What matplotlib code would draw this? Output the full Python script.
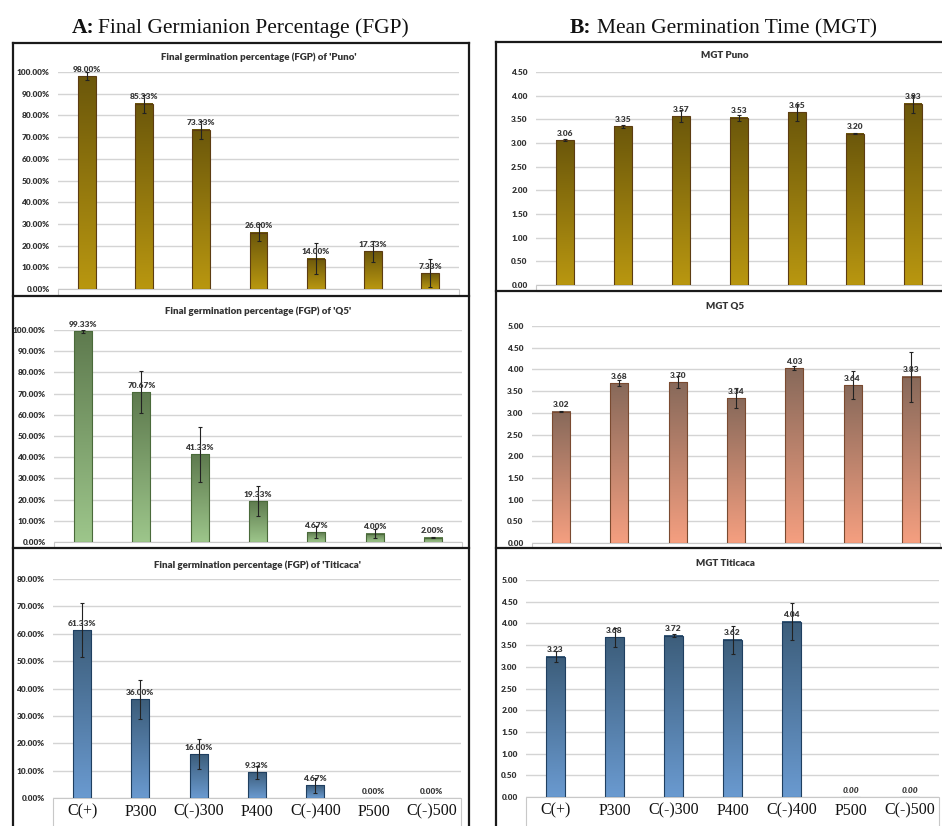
import numpy as np
import matplotlib.pyplot as plt
from matplotlib.colors import LinearSegmentedColormap
from matplotlib.patches import Rectangle
from matplotlib.lines import Line2D

W, H = 942, 826

categories = ['C(+)', 'P300', 'C(-)300', 'P400', 'C(-)400', 'P500', 'C(-)500']

fgp_puno = [98.00, 85.33, 73.33, 26.00, 14.00, 17.33, 7.33]
fgp_puno_err = [1.8, 4.0, 4.0, 4.0, 7.3, 5.0, 6.3]
fgp_q5 = [99.33, 70.67, 41.33, 19.33, 4.67, 4.00, 2.00]
fgp_q5_err = [0.7, 10.0, 13.0, 7.0, 2.7, 2.0, 0.3]
fgp_titicaca = [61.33, 36.00, 16.00, 9.33, 4.67, 0.00, 0.00]
fgp_titicaca_err = [10.0, 7.0, 5.5, 2.5, 2.7, 0, 0]

mgt_puno = [3.06, 3.35, 3.57, 3.53, 3.65, 3.20, 3.83]
mgt_puno_err = [0.02, 0.03, 0.12, 0.07, 0.18, 0.02, 0.19]
mgt_q5 = [3.02, 3.68, 3.70, 3.34, 4.03, 3.64, 3.83]
mgt_q5_err = [0.01, 0.07, 0.14, 0.24, 0.05, 0.32, 0.58]
mgt_titicaca = [3.23, 3.68, 3.72, 3.62, 4.04, 0.00, 0.00]
mgt_titicaca_err = [0.13, 0.22, 0.04, 0.33, 0.42, 0, 0]

# bar colours: (top, bottom, edge)
puno_col = ('#6b570b', '#b99710', '#5c3c12')
q5g_col = ('#5e7a4e', '#9dc68b', '#4a6a3a')
q5b_col = ('#87695a', '#f59f80', '#7a4a30')
titi_col = ('#3c5d7a', '#6a9ad0', '#1f3f60')

sans = ['Lato', 'DejaVu Sans']
serif = ['Liberation Serif', 'DejaVu Serif']

fig = plt.figure(figsize=(W / 100, H / 100), dpi=100)
fig.patch.set_facecolor('white')


def fx(x):
    return x / W


def fy(y):
    return 1 - y / H


def panel(box, frame_bottom, title, title_y, vals, errs, cols, ymax, step, pct,
          show_x, zero_italic=False):
    l, t, r, b = box
    # white x-axis box under the plot area, down to the panel frame
    fig.add_artist(Rectangle((fx(l), fy(frame_bottom)), (r - l) / W, (frame_bottom - b) / H,
                             transform=fig.transFigure, facecolor='white',
                             edgecolor='#c8c8c8', lw=0.8, zorder=0.5))
    ax = fig.add_axes([fx(l), fy(b), (r - l) / W, (b - t) / H])
    ax.set_zorder(1)
    x = np.arange(len(vals))
    w = 0.31
    cmap = LinearSegmentedColormap.from_list('g', [cols[1], cols[0]])
    grad = np.linspace(1, 0, 256).reshape(-1, 1)
    for i, v in enumerate(vals):
        if v > 0:
            ax.imshow(grad, extent=[i - w / 2, i + w / 2, 0, v], aspect='auto',
                      cmap=cmap, origin='upper', zorder=2, interpolation='bilinear')
    ax.bar(x, vals, width=w, fill=False, edgecolor=cols[2], lw=0.8, zorder=3)
    nz = [i for i, v in enumerate(vals) if v > 0]
    ax.errorbar([x[i] for i in nz], [vals[i] for i in nz], yerr=[errs[i] for i in nz],
                fmt='none', ecolor='#222222', elinewidth=0.8, capsize=1.6,
                capthick=0.8, zorder=4)
    for i, v in enumerate(vals):
        lab = f'{v:.2f}%' if pct else f'{v:.2f}'
        style = 'italic' if (zero_italic and v == 0) else 'normal'
        ax.annotate(lab, (i, v), xytext=(0, 2.5), textcoords='offset points',
                    ha='center', va='bottom', fontsize=6, fontweight='heavy',
                    style=style, color='#3a3a3a', family=sans, zorder=5)
    ax.set_xlim(-0.5, len(vals) - 0.5)
    ax.set_ylim(0, ymax)
    ticks = np.arange(0, ymax + step / 2, step)
    ax.set_yticks(ticks)
    if pct:
        ax.set_yticklabels([f'{v:.2f}%' for v in ticks])
    else:
        ax.set_yticklabels([f'{v:.2f}' for v in ticks])
    for lab in ax.get_yticklabels():
        lab.set_fontsize(6)
        lab.set_fontweight('heavy')
        lab.set_color('#333333')
        lab.set_family(sans)
    ax.tick_params(axis='y', length=0, pad=6)
    ax.set_axisbelow(True)
    ax.yaxis.grid(True, color='#d4d4d4', lw=1.0)
    for s in ax.spines.values():
        s.set_visible(False)
    ax.set_xticks(x)
    if show_x:
        ax.set_xticklabels(categories, fontsize=11.5, family=serif, color='#111111')
        ax.tick_params(axis='x', length=0, pad=4)
    else:
        ax.set_xticklabels([])
        ax.tick_params(axis='x', length=0)
    ax.patch.set_alpha(0)
    fig.text(fx((l + r) / 2 if r < 900 else 725), fy(title_y), title, ha='center',
             va='center', fontsize=7, fontweight='heavy', color='#333333', family=sans)
    return ax


panel((58, 72, 459, 289), 296, "Final germination percentage (FGP) of 'Puno'", 57,
      fgp_puno, fgp_puno_err, puno_col, 100, 10, True, False)
panel((54, 330, 462, 542), 548, "Final germination percentage (FGP) of 'Q5'", 311,
      fgp_q5, fgp_q5_err, q5g_col, 100, 10, True, False)
panel((53, 579, 461, 798), 830, "Final germination percentage (FGP) of 'Titicaca'", 565,
      fgp_titicaca, fgp_titicaca_err, titi_col, 80, 10, True, True)

panel((536, 72, 942, 285), 291, "MGT Puno", 56,
      mgt_puno, mgt_puno_err, puno_col, 4.5, 0.5, False, False)
panel((532, 326, 940, 543), 548, "MGT Q5", 306,
      mgt_q5, mgt_q5_err, q5b_col, 5.0, 0.5, False, False)
panel((526, 580, 939, 797), 830, "MGT Titicaca", 564,
      mgt_titicaca, mgt_titicaca_err, titi_col, 5.0, 0.5, False, True, zero_italic=True)


# black panel frames
def hline(y, x0, x1):
    fig.add_artist(Line2D([fx(x0), fx(x1)], [fy(y), fy(y)], color='#1a1a1a', lw=1.6, zorder=10))


def vline(x, y0, y1):
    fig.add_artist(Line2D([fx(x), fx(x)], [fy(y0), fy(y1)], color='#1a1a1a', lw=1.6, zorder=10))


for y in (43, 296, 548):
    hline(y, 13, 469)
vline(13, 43, 826)
vline(469, 43, 826)
for y in (42, 291, 548):
    hline(y, 496, 942)
vline(496, 42, 826)

# column headings
fig.text(fx(72), fy(33), 'A:', ha='left', va='baseline', fontsize=15.5,
         fontweight='bold', family=serif, color='#111111')
fig.text(fx(98), fy(33), 'Final Germianion Percentage (FGP)', ha='left', va='baseline',
         fontsize=15.5, family=serif, color='#111111')
fig.text(fx(570), fy(33), 'B:', ha='left', va='baseline', fontsize=15.5,
         fontweight='bold', family=serif, color='#111111')
fig.text(fx(597), fy(33), 'Mean Germination Time (MGT)', ha='left', va='baseline',
         fontsize=15.5, family=serif, color='#111111')

fig.savefig('out.png', dpi=100)
